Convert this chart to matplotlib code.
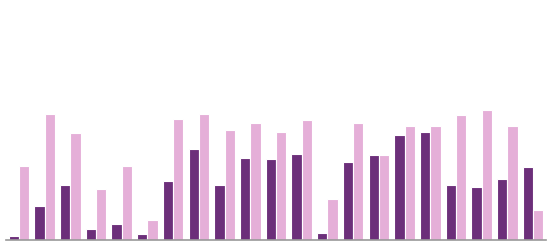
import numpy as np
import matplotlib.pyplot as plt

# values (arbitrary units, axis runs 0..240)
groups = list(range(1, 22))
dark_vals = [4, 34, 55, 11, 16, 6, 59, 91, 55, 82, 81, 86, 7, 78,
             85, 105, 108, 55, 53, 61, 73]
light_vals = [74, 126, 107, 51, 74, 20, 121, 126, 110, 117, 108, 120, 41, 117,
              85, 114, 114, 125, 130, 114, 30]

dark_color = '#6c2f7a'
light_color = '#e5afd8'

fig = plt.figure(figsize=(5.56, 2.5), dpi=100)
ax = fig.add_axes([6 / 556, 10 / 250, 540 / 556, 240 / 250])

x = np.arange(len(groups))
w = 0.4
ax.bar(x - w / 2, dark_vals, w, color=dark_color, edgecolor='white', linewidth=0.8)
ax.bar(x + w / 2, light_vals, w, color=light_color, edgecolor='white', linewidth=0.8)

ax.set_xlim(-0.5, len(groups) - 0.5)
ax.set_ylim(0, 240)
for side in ['top', 'right', 'left']:
    ax.spines[side].set_visible(False)
ax.spines['bottom'].set_color('#999999')
ax.spines['bottom'].set_linewidth(1.2)
ax.set_xticks([])
ax.set_yticks([])

fig.savefig('out.png', dpi=100)
